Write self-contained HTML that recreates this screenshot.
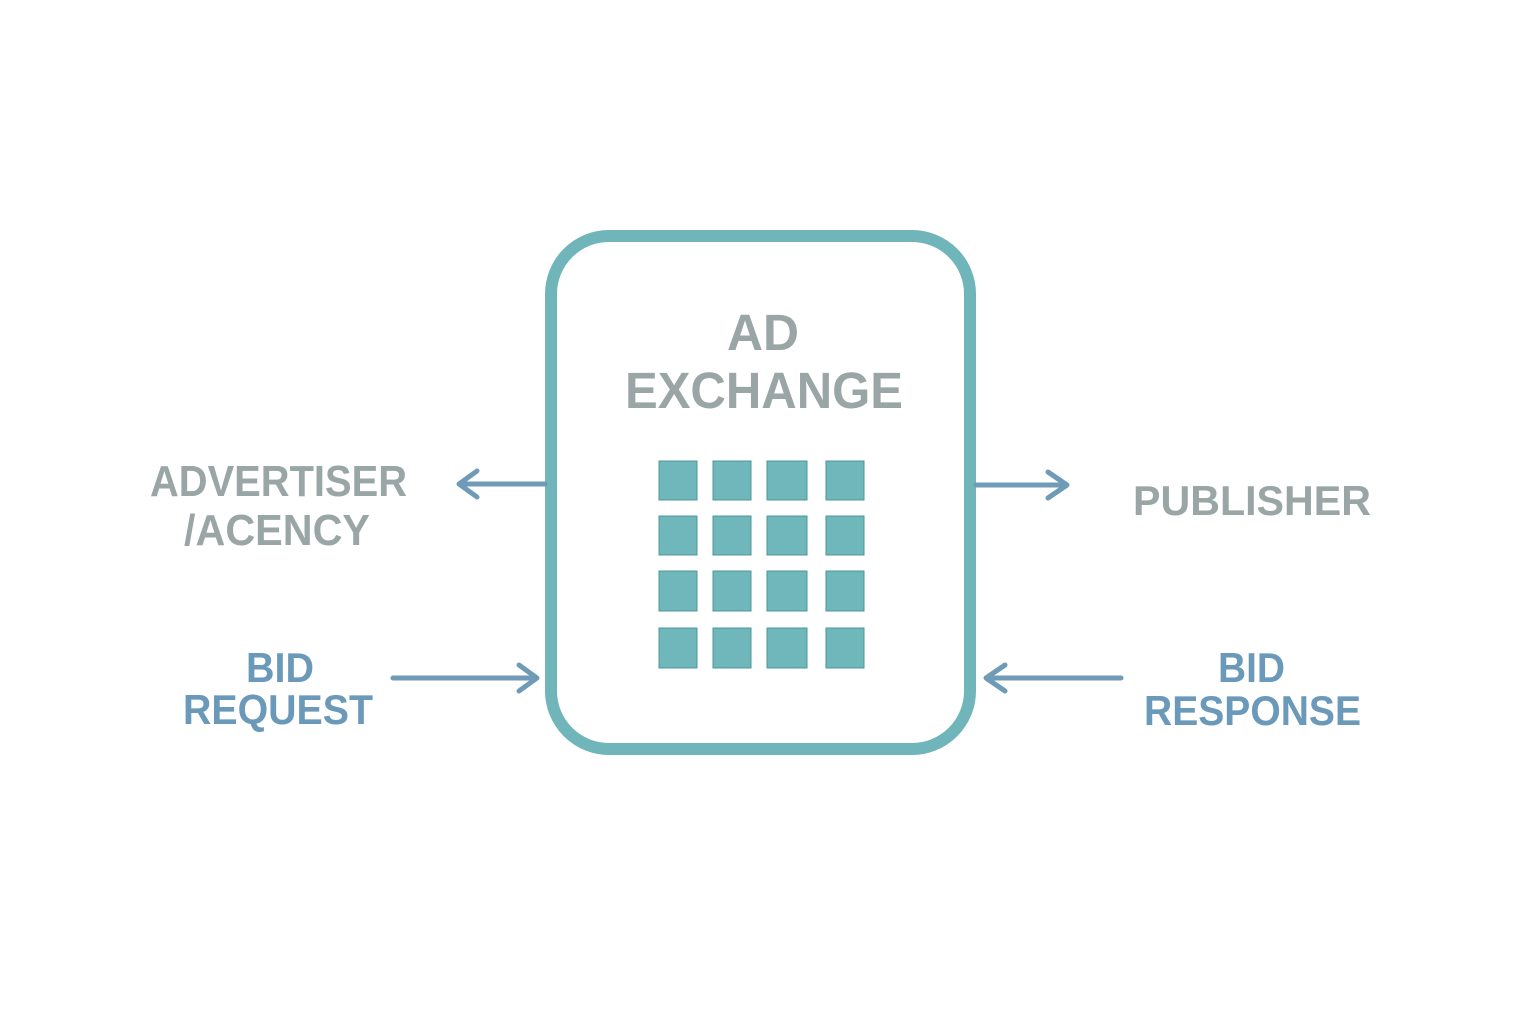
<!DOCTYPE html>
<html><head><meta charset="utf-8"><style>
html,body{margin:0;padding:0;background:#fff;}
svg{display:block;}
text{font-family:"Liberation Sans",sans-serif;font-weight:bold;}
</style></head><body>
<svg width="1536" height="1024" viewBox="0 0 1536 1024" xmlns="http://www.w3.org/2000/svg">
<rect x="0" y="0" width="1536" height="1024" fill="#fff"/>
<rect x="551" y="236" width="419" height="513" rx="58" ry="58" fill="#fff" stroke="#6fb5ba" stroke-width="12"/>
<g fill="#6fb7ba" stroke="#4f9598" stroke-width="1">
<rect x="659" y="461" width="38" height="39"/><rect x="713" y="461" width="38" height="39"/><rect x="767" y="461" width="40" height="39"/><rect x="826" y="461" width="38" height="39"/>
<rect x="659" y="516" width="38" height="39"/><rect x="713" y="516" width="38" height="39"/><rect x="767" y="516" width="40" height="39"/><rect x="826" y="516" width="38" height="39"/>
<rect x="659" y="571" width="38" height="40"/><rect x="713" y="571" width="38" height="40"/><rect x="767" y="571" width="40" height="40"/><rect x="826" y="571" width="38" height="40"/>
<rect x="659" y="628" width="38" height="40"/><rect x="713" y="628" width="38" height="40"/><rect x="767" y="628" width="40" height="40"/><rect x="826" y="628" width="38" height="40"/>
</g>
<g fill="#9aa6a6">
<text x="727" y="350" font-size="51" textLength="72" lengthAdjust="spacingAndGlyphs">AD</text>
<text x="625" y="408" font-size="51" textLength="278" lengthAdjust="spacingAndGlyphs">EXCHANGE</text>
<text x="150" y="496" font-size="44" textLength="257" lengthAdjust="spacingAndGlyphs">ADVERTISER</text>
<text x="184" y="545" font-size="44" textLength="186" lengthAdjust="spacingAndGlyphs">/ACENCY</text>
<text x="1133" y="515" font-size="42" textLength="238" lengthAdjust="spacingAndGlyphs">PUBLISHER</text>
</g>
<g fill="#6b99b9">
<text x="246" y="682" font-size="42" textLength="68" lengthAdjust="spacingAndGlyphs">BID</text>
<text x="183" y="724" font-size="42" textLength="190" lengthAdjust="spacingAndGlyphs">REQUEST</text>
<text x="1218" y="682" font-size="42" textLength="67" lengthAdjust="spacingAndGlyphs">BID</text>
<text x="1144" y="725" font-size="42" textLength="217" lengthAdjust="spacingAndGlyphs">RESPONSE</text>
</g>
<g stroke="#6f9bb7" stroke-width="5" fill="none" stroke-linecap="round" stroke-linejoin="round">
<line x1="545" y1="484" x2="460" y2="484"/><polyline points="477,471 459,484 477,497"/>
<line x1="393" y1="678" x2="536" y2="678"/><polyline points="519,665 537,678 519,691"/>
<line x1="976" y1="485" x2="1066" y2="485"/><polyline points="1048,472 1067,485 1048,498"/>
<line x1="1121" y1="678" x2="987" y2="678"/><polyline points="1005,665 986,678 1005,691"/>
</g>
</svg>
</body></html>
